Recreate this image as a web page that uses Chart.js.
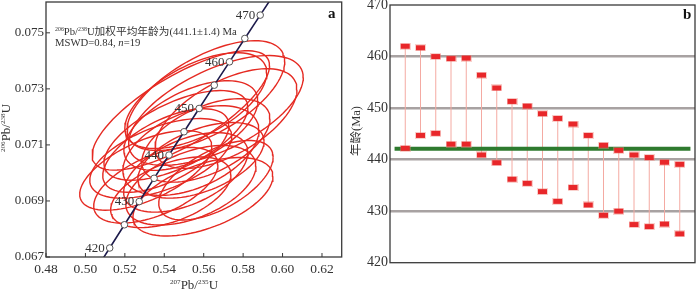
<!DOCTYPE html>
<html>
<head>
<meta charset="utf-8">
<script src="https://cdn.jsdelivr.net/npm/chart.js@4.4.0/dist/chart.umd.min.js"></script>
<style>
  html, body { margin: 0; padding: 0; background: #fff; }
  #wrap { position: relative; width: 700px; height: 292px; }
  #wrap canvas { position: absolute; top: 0; }
</style>
</head>
<body>
<div id="wrap">
  <canvas id="concordia" width="350" height="292" style="left:0"></canvas>
  <canvas id="ages" width="350" height="292" style="left:350px"></canvas>
</div>
<script>
// ═══════════════════════════════════════════════
//  Panel a — U-Pb concordia
// ═══════════════════════════════════════════════
const xTicks = [0.48, 0.50, 0.52, 0.54, 0.56, 0.58, 0.60, 0.62];
const yTicks = [0.067, 0.069, 0.071, 0.073, 0.075];

// concordia curve points (Ma, 207Pb/235U, 206Pb/238U)
const concAge = [415, 420, 425, 430, 435, 440, 445, 450, 455, 460, 465, 470, 475];
const concX = [0.50486, 0.51232, 0.51978, 0.52729, 0.53483, 0.54241, 0.55002, 0.55767, 0.56536, 0.57309, 0.58085, 0.58866, 0.59650];
const concY = [0.066494, 0.067322, 0.068150, 0.068979, 0.069808, 0.070638, 0.071469, 0.072300, 0.073132, 0.073965, 0.074798, 0.075632, 0.076467];
const labelAges = [420, 430, 440, 450, 460, 470];

// error ellipses: centre, half extent on each axis, correlation
const ellX   = [0.5611, 0.5662, 0.5484, 0.5560, 0.5713, 0.5535, 0.5459, 0.5611, 0.5535, 0.5408, 0.5586, 0.5382, 0.5306, 0.5509, 0.5535, 0.5596, 0.5357, 0.5433, 0.5662];
const ellY   = [0.07276, 0.07223, 0.07223, 0.07258, 0.07194, 0.07169, 0.07134, 0.07116, 0.07080, 0.07080, 0.07045, 0.07052, 0.07009, 0.07002, 0.06956, 0.06915, 0.06956, 0.06931, 0.06974];
const ellSx  = [0.0400, 0.0443, 0.0450, 0.0360, 0.0360, 0.0340, 0.0365, 0.0325, 0.0345, 0.0320, 0.0320, 0.0360, 0.0335, 0.0315, 0.0330, 0.0355, 0.0315, 0.0305, 0.0290];
const ellSy  = [0.00196, 0.00196, 0.00213, 0.00171, 0.00178, 0.00160, 0.00160, 0.00149, 0.00160, 0.00149, 0.00135, 0.00142, 0.00142, 0.00142, 0.00142, 0.00140, 0.00135, 0.00126, 0.00142];
const ellRho = [0.62, 0.60, 0.75, 0.58, 0.58, 0.55, 0.62, 0.52, 0.45, 0.60, 0.50, 0.55, 0.60, 0.50, 0.48, 0.52, 0.55, 0.50, 0.58];

// ═══════════════════════════════════════════════
//  Panel b — 206Pb/238U ages per spot
// ═══════════════════════════════════════════════
const spotNo  = [1, 2, 3, 4, 5, 6, 7, 8, 9, 10, 11, 12, 13, 14, 15, 16, 17, 18, 19];
const ageHigh = [462.0, 461.7, 460.0, 459.6, 459.7, 456.4, 453.9, 451.3, 450.4, 448.9, 448.0, 446.9, 444.7, 442.8, 441.8, 440.9, 440.4, 439.5, 439.1];
const ageLow  = [442.2, 444.7, 445.1, 443.0, 443.0, 440.9, 439.4, 436.2, 435.4, 433.8, 431.9, 434.6, 431.2, 429.2, 430.0, 427.4, 427.0, 427.5, 425.6];
const meanAge = 442.1;
const meanSpan = [0.3, 19.7];
const ageTicks = [420, 430, 440, 450, 460, 470];

const SERIF = '"Liberation Serif", "Times New Roman", "Noto Sans CJK SC", serif';
const INK = '#333';

// text with superscript / italic runs
function drawRich(ctx, parts, x, y, size, align) {
  ctx.save();
  ctx.textBaseline = 'alphabetic';
  const fonts = parts.map(p => `${p.i ? 'italic ' : ''}${p.s ? size * 0.55 : size}px ${SERIF}`);
  let w = 0;
  parts.forEach((p, k) => { ctx.font = fonts[k]; w += ctx.measureText(p.t).width; });
  let cx = align === 'center' ? x - w / 2 : x;
  parts.forEach((p, k) => {
    ctx.font = fonts[k];
    ctx.fillText(p.t, cx, p.s ? y - size * 0.4 : y);
    cx += ctx.measureText(p.t).width;
  });
  ctx.restore();
}

function ellipsePoints(i) {
  const pts = [];
  const r = ellRho[i], k = Math.sqrt(1 - r * r);
  for (let s = 0; s <= 90; s++) {
    const t = s / 90 * 2 * Math.PI;
    pts.push({ x: ellX[i] + ellSx[i] * Math.cos(t), y: ellY[i] + ellSy[i] * (r * Math.cos(t) + k * Math.sin(t)) });
  }
  return pts;
}

function noPad(scale) {
  scale.paddingTop = 0; scale.paddingBottom = 0;
  scale.paddingLeft = 0; scale.paddingRight = 0;
}

const framePlugin = (name, opts) => ({
  id: name,
  afterDatasetsDraw(chart) {
    const { ctx, chartArea: a } = chart;
    ctx.save();
    ctx.strokeStyle = '#3a3a3a';
    ctx.lineWidth = 1.3;
    ctx.strokeRect(a.left, a.top, a.right - a.left, a.bottom - a.top);
    if (opts.inTicks) {
      ctx.lineWidth = 1;
      xTicks.forEach(v => {
        const px = chart.scales.x.getPixelForValue(v);
        ctx.beginPath(); ctx.moveTo(px, a.bottom); ctx.lineTo(px, a.bottom - 4); ctx.stroke();
      });
      yTicks.forEach(v => {
        const py = chart.scales.y.getPixelForValue(v);
        ctx.beginPath(); ctx.moveTo(a.left, py); ctx.lineTo(a.left + 4, py); ctx.stroke();
      });
    }
    ctx.restore();
    opts.draw(chart);
  }
});

// ─── concordia chart ───
const concordiaPts = concAge.map((t, i) => ({ x: concX[i], y: concY[i] }));

new Chart(document.getElementById('concordia'), {
  type: 'scatter',
  data: {
    datasets: [
      {
        data: concordiaPts,
        showLine: true,
        borderColor: '#1d1b4c',
        borderWidth: 1.6,
        pointRadius: c => (concAge[c.dataIndex] >= 420 && concAge[c.dataIndex] <= 470 ? 3.3 : 0),
        pointBackgroundColor: '#fff',
        pointBorderColor: '#555',
        pointBorderWidth: 1,
        order: 0,
      },
      ...ellX.map((_, i) => ({
        data: ellipsePoints(i),
        showLine: true,
        borderColor: '#e52a22',
        borderWidth: 1.4,
        pointRadius: 0,
        tension: 0,
        order: 1,
      })),
    ],
  },
  options: {
    responsive: false,
    animation: false,
    devicePixelRatio: 1,
    layout: { padding: { left: 0, top: 2, right: 8.3, bottom: 0 } },
    plugins: { legend: { display: false }, tooltip: { enabled: false } },
    scales: {
      x: {
        type: 'linear', min: 0.48, max: 0.63,
        afterBuildTicks: s => { s.ticks = xTicks.map(v => ({ value: v })); },
        afterFit: s => { s.height = 35; noPad(s); },
        grid: { display: false, drawTicks: false },
        border: { display: false },
        ticks: { color: INK, padding: 4, font: { family: SERIF, size: 13.5 }, callback: v => v.toFixed(2), maxRotation: 0, autoSkip: false },
      },
      y: {
        type: 'linear', min: 0.067, max: 0.0761,
        afterBuildTicks: s => { s.ticks = yTicks.map(v => ({ value: v })); },
        afterFit: s => { s.width = 46; noPad(s); },
        grid: { display: false, drawTicks: false },
        border: { display: false },
        ticks: { color: INK, padding: 2, font: { family: SERIF, size: 13 }, callback: v => v.toFixed(3), autoSkip: false },
      },
    },
  },
  plugins: [framePlugin('frameA', {
    inTicks: true,
    draw(chart) {
      const { ctx } = chart;
      const xs = chart.scales.x, ys = chart.scales.y;
      ctx.save();
      ctx.fillStyle = INK;
      ctx.font = `13px ${SERIF}`;
      ctx.textAlign = 'right';
      ctx.textBaseline = 'middle';
      labelAges.forEach(t => {
        const i = concAge.indexOf(t);
        ctx.fillText(String(t), xs.getPixelForValue(concX[i]) - 5, ys.getPixelForValue(concY[i]) + 0.5);
      });
      ctx.textAlign = 'left';
      ctx.textBaseline = 'alphabetic';
      drawRich(ctx, [{ t: '206', s: 1 }, { t: 'Pb/' }, { t: '238', s: 1 }, { t: 'U加权平均年龄为(441.1±1.4) Ma' }], 55, 35, 10.7, 'left');
      drawRich(ctx, [{ t: 'MSWD=0.84, ' }, { t: 'n', i: 1 }, { t: '=19' }], 55, 46, 10.7, 'left');
      ctx.font = `bold 15px ${SERIF}`;
      ctx.fillStyle = '#111';
      ctx.fillText('a', 328, 18);
      // axis titles
      ctx.fillStyle = INK;
      drawRich(ctx, [{ t: '207', s: 1 }, { t: 'Pb/' }, { t: '235', s: 1 }, { t: 'U' }], 194, 289, 13, 'center');
      ctx.translate(10, 128);
      ctx.rotate(-Math.PI / 2);
      drawRich(ctx, [{ t: '206', s: 1 }, { t: 'Pb/' }, { t: '238', s: 1 }, { t: 'U' }], 0, 0, 13, 'center');
      ctx.restore();
    },
  })],
});

// ─── age bar chart ───
const mark = document.createElement('canvas');
mark.width = 11; mark.height = 7;
const m = mark.getContext('2d');
m.fillStyle = 'rgba(240,140,130,0.4)';
m.fillRect(0, 0, 11, 7);
m.fillStyle = '#e8272a';
m.fillRect(1, 1, 9, 5);

const connectors = [];
spotNo.forEach((n, i) => {
  connectors.push({ x: n, y: ageLow[i] }, { x: n, y: ageHigh[i] }, { x: n, y: null });
});
const markers = spotNo.flatMap((n, i) => [{ x: n, y: ageHigh[i] }, { x: n, y: ageLow[i] }]);

new Chart(document.getElementById('ages'), {
  type: 'scatter',
  data: {
    datasets: [
      { data: markers, pointStyle: mark, pointRadius: 4, showLine: false, order: 0 },
      {
        data: meanSpan.map(x => ({ x, y: meanAge })),
        showLine: true, borderColor: '#2e7a2e', borderWidth: 4, pointRadius: 0, order: 1,
      },
      {
        data: connectors,
        showLine: true, spanGaps: false, borderColor: '#f4aaa2', borderWidth: 1, pointRadius: 0, order: 2,
      },
    ],
  },
  options: {
    responsive: false,
    animation: false,
    devicePixelRatio: 1,
    layout: { padding: { left: 0, top: 2.7, right: 1, bottom: 29.3 } },
    plugins: { legend: { display: false }, tooltip: { enabled: false } },
    scales: {
      x: { type: 'linear', min: 0, max: 20, display: false },
      y: {
        type: 'linear', min: 420, max: 470,
        afterBuildTicks: s => { s.ticks = ageTicks.map(v => ({ value: v })); },
        afterFit: s => { s.width = 40; noPad(s); },
        grid: {
          drawTicks: false,
          lineWidth: 2.6,
          color: c => (c.tick && (c.tick.value === 420 || c.tick.value === 470) ? 'rgba(0,0,0,0)' : '#a8a2a2'),
        },
        border: { display: false },
        ticks: { color: INK, padding: 2, font: { family: SERIF, size: 14 }, autoSkip: false },
      },
    },
  },
  plugins: [framePlugin('frameB', {
    inTicks: false,
    draw(chart) {
      const { ctx } = chart;
      ctx.save();
      ctx.fillStyle = '#111';
      ctx.font = `bold 15px ${SERIF}`;
      ctx.textAlign = 'left';
      ctx.fillText('b', 333, 19);
      ctx.fillStyle = INK;
      ctx.translate(10, 131);
      ctx.rotate(-Math.PI / 2);
      ctx.font = `12.5px ${SERIF}`;
      ctx.textAlign = 'center';
      ctx.fillText('年龄(Ma)', 0, 0);
      ctx.restore();
    },
  })],
});
</script>
</body>
</html>
